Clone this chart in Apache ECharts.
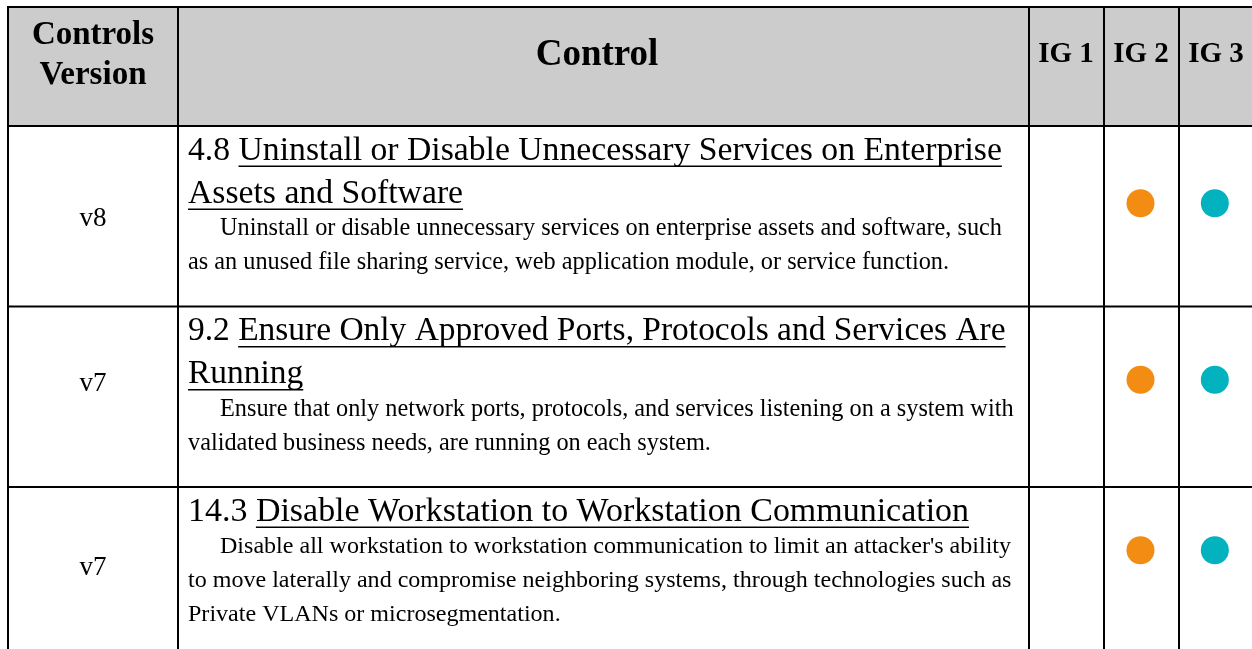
<!DOCTYPE html>
<html><head><meta charset="utf-8">
<script src="https://cdn.jsdelivr.net/npm/echarts@6/dist/echarts.min.js"></script>
<style>html,body{margin:0;padding:0;background:#fff}#c{width:1252px;height:649px}</style>
</head><body><div id="c"></div>
<script>
// ---- data ----
const headers = ['Controls\nVersion', 'Control', 'IG 1', 'IG 2', 'IG 3'];
const igNames = ['IG 1', 'IG 2', 'IG 3'];
const versions = ['v8', 'v7', 'v7'];
const controlIds = ['4.8', '9.2', '14.3'];
const controlTitles = [
  'Uninstall or Disable Unnecessary Services on Enterprise\nAssets and Software',
  'Ensure Only Approved Ports, Protocols and Services Are\nRunning',
  'Disable Workstation to Workstation Communication'
];
const descriptions = [
  'Uninstall or disable unnecessary services on enterprise assets and software, such\nas an unused file sharing service, web application module, or service function.',
  'Ensure that only network ports, protocols, and services listening on a system with\nvalidated business needs, are running on each system.',
  "Disable all workstation to workstation communication to limit an attacker's ability\nto move laterally and compromise neighboring systems, through technologies such as\nPrivate VLANs or microsegmentation."
];
const ig1 = [0, 0, 0];
const ig2 = [1, 1, 1];
const ig3 = [1, 1, 1];

// ---- layout / style ----
const W = 1252, H = 649;
const COLS = [8, 178, 1029, 1104, 1179, 1253];
const HEAD_TOP = 7, BODY_TOP = 126, ROW_H = 180.5;
const SERIF = '"Liberation Serif", "DejaVu Serif", serif';
const TITLE_FS = 33.7, DESC_FS = 24.3, VER_FS = 27;
const HEAD_FS = [33, 37, 29, 29, 29];
const HEAD_CX = [93, 597, 1066, 1141, 1216];
const ROW_TITLE_SCALE = [1, 0.993, 1.008];
const ROW_DESC_SCALE = [1, 1, 0.99];
const VER_DY = [3, -13, -9];
const DOT_DY = [-13, -17, -27];
const TEXT_LEFT = 188, INDENT = 32;
const TITLE_TOP = 25, TITLE_LH = 43, DESC_GAP = 35, DESC_LH = 34;
const UL_OFF = 0.43;
const DOT_SIZE = 28;
const LINE_W = 2;
const IG_COLORS = ['#7f7f7f', '#f28c13', '#02b2be'];
const Y_MIN = -0.5, Y_MAX = -0.5 + (H - BODY_TOP) / ROW_H;

const mctx = document.createElement('canvas').getContext('2d');
function textW(s, fs, weight) {
  mctx.font = (weight || 'normal') + ' ' + fs + 'px ' + SERIF;
  return mctx.measureText(s).width;
}
function txt(x, y, s, fs, align, weight) {
  return { type: 'text', x: x, y: y, style: { text: s, fontSize: fs, fontFamily: SERIF,
    fontWeight: weight || 'normal', fill: '#000', align: align || 'left', verticalAlign: 'middle' } };
}

function renderRow(params, api) {
  const i = api.value(1);
  const cy = api.coord([0, i])[1];
  const h = Math.abs(api.size([0, 1])[1]);
  const top = cy - h / 2;
  const tfs = TITLE_FS * ROW_TITLE_SCALE[i];
  const ch = [];
  ch.push({ type: 'line', shape: { x1: COLS[0] - 1, y1: top, x2: COLS[5], y2: top },
    style: { stroke: '#000', lineWidth: LINE_W } });
  ch.push(txt((COLS[0] + COLS[1]) / 2, cy + VER_DY[i], versions[i], VER_FS, 'center'));
  let y = top + TITLE_TOP;
  controlTitles[i].split('\n').forEach(function (ln, k) {
    let x = TEXT_LEFT;
    if (k === 0) {
      const pre = controlIds[i] + ' ';
      ch.push(txt(x, y, pre, tfs));
      x += textW(pre, tfs);
    }
    ch.push(txt(x, y, ln, tfs));
    ch.push({ type: 'rect', shape: { x: x, y: y + UL_OFF * tfs, width: textW(ln, tfs), height: 1.5 },
      style: { fill: '#000' } });
    y += TITLE_LH;
  });
  y = y - TITLE_LH + DESC_GAP;
  descriptions[i].split('\n').forEach(function (ln, k) {
    ch.push(txt(TEXT_LEFT + (k === 0 ? INDENT : 0), y, ln, DESC_FS * ROW_DESC_SCALE[i]));
    y += DESC_LH;
  });
  return { type: 'group', children: ch };
}

const igFlags = [ig1, ig2, ig3];
const dotSeries = igNames.map(function (name, j) {
  const data = [];
  igFlags[j].forEach(function (f, i) {
    if (f) data.push({ value: [name, i], symbolOffset: [0, DOT_DY[i]] });
  });
  return { type: 'scatter', xAxisIndex: 1, yAxisIndex: 1, data: data, symbol: 'circle',
    symbolSize: DOT_SIZE, itemStyle: { color: IG_COLORS[j], opacity: 1 }, z: 5 };
});

const graphics = [
  { type: 'rect', z: -10, shape: { x: COLS[0], y: HEAD_TOP, width: COLS[5] - COLS[0], height: BODY_TOP - HEAD_TOP },
    style: { fill: '#cccccc' } }
];
headers.forEach(function (hd, j) {
  const t = txt(HEAD_CX[j], HEAD_TOP + 48, hd, HEAD_FS[j], 'center', 'bold');
  t.style.lineHeight = 40;
  graphics.push(t);
});
graphics.push({ type: 'line', z: 10, shape: { x1: COLS[0] - 1, y1: HEAD_TOP, x2: COLS[5], y2: HEAD_TOP },
  style: { stroke: '#000', lineWidth: LINE_W } });
for (let j = 0; j < 5; j++) {
  graphics.push({ type: 'line', z: 10, shape: { x1: COLS[j], y1: HEAD_TOP - 1, x2: COLS[j], y2: H + 5 },
    style: { stroke: '#000', lineWidth: LINE_W } });
}

const chart = echarts.init(document.getElementById('c'));
chart.setOption({
  animation: false,
  backgroundColor: '#fff',
  grid: [
    { left: COLS[0], top: BODY_TOP, width: W - COLS[0], height: H - BODY_TOP },
    { left: COLS[2], top: BODY_TOP, width: COLS[5] - COLS[2], height: H - BODY_TOP }
  ],
  xAxis: [
    { gridIndex: 0, type: 'value', min: 0, max: 1, show: false },
    { gridIndex: 1, type: 'category', data: igNames, show: false }
  ],
  yAxis: [
    { gridIndex: 0, type: 'value', min: Y_MIN, max: Y_MAX, inverse: true, show: false },
    { gridIndex: 1, type: 'value', min: Y_MIN, max: Y_MAX, inverse: true, show: false }
  ],
  graphic: graphics,
  series: [
    { type: 'custom', xAxisIndex: 0, yAxisIndex: 0, renderItem: renderRow, clip: false,
      encode: { x: 0, y: 1 }, data: controlIds.map(function (id, i) { return [0, i]; }) }
  ].concat(dotSeries)
});
</script></body></html>
